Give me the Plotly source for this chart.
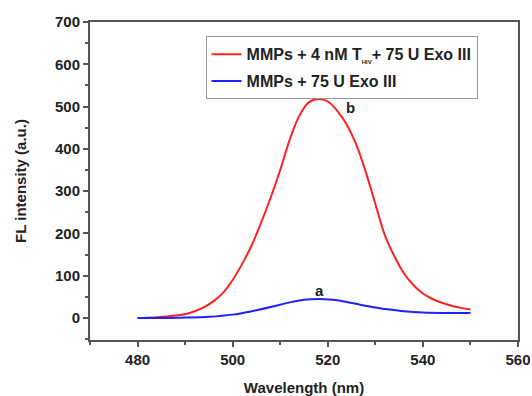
import plotly.graph_objects as go

red_x = [480, 484, 488, 490, 492, 494, 496, 498, 500, 502, 504, 506, 508, 510, 512, 514, 516, 518,
         520, 522, 524, 526, 528, 530, 532, 534, 536, 538, 540, 542, 544, 546, 548, 550]
red_y = [0, 2, 6, 9, 16, 26, 40, 60, 90, 128, 172, 226, 285, 350, 422, 478, 510, 518,
         512, 490, 457, 410, 345, 270, 196, 146, 106, 78, 58, 45, 36, 29, 24, 20]
blue_x = [480, 485, 490, 495, 500, 504, 508, 512, 515, 518, 521, 524, 527, 530, 533, 536, 540, 545, 550]
blue_y = [0, 0, 1, 3, 8, 16, 26, 37, 43, 45, 43, 38, 31, 25, 20, 16, 13, 12, 12]
red_name = "<b>MMPs + 4 nM T<sub><span style='font-size:6px'>HIV</span></sub>+ 75 U Exo III</b>"
blue_name = "<b>MMPs + 75 U Exo III</b>"

fig = go.Figure()
fig.add_trace(go.Scatter(x=red_x, y=red_y, mode="lines", name=red_name, legendgroup="r",
                         line=dict(color="#ff2020", width=2, shape="spline", smoothing=1.0)))
fig.add_trace(go.Scatter(x=blue_x, y=blue_y, mode="lines", name=blue_name, legendgroup="b",
                         line=dict(color="#2020ff", width=2, shape="spline", smoothing=1.0)))

fig.add_annotation(x=524.7, y=497, text="<b>b</b>", showarrow=False,
                   font=dict(family="Arial", size=15, color="#222"))
fig.add_annotation(x=518.2, y=66, text="<b>a</b>", showarrow=False,
                   font=dict(family="Arial", size=15, color="#222"))

axis_common = dict(showline=True, linecolor="#555", linewidth=2, mirror=True,
                   ticks="outside", ticklen=5, tickwidth=1.5, tickcolor="#555",
                   showgrid=False, zeroline=False, automargin=False,
                   tickfont=dict(family="Arial", size=15, color="#222"))

fig.update_xaxes(range=[470, 560], tick0=480, dtick=20,
                 minor=dict(ticks="outside", dtick=10, tick0=470, ticklen=3, tickcolor="#555"),
                 title=dict(text="<b>Wavelength (nm)</b>", font=dict(family="Arial", size=15, color="#222"), standoff=17),
                 tickprefix="<b>", ticksuffix="</b>", **axis_common)
fig.update_yaxes(range=[-52, 700], tick0=0, dtick=100,
                 minor=dict(ticks="outside", dtick=50, tick0=0, ticklen=3, tickcolor="#555"),
                 title=dict(text="<b>FL intensity (a.u.)</b>", font=dict(family="Arial", size=15, color="#222"), standoff=25),
                 tickprefix="<b>", ticksuffix="</b>", **axis_common)

fig.update_layout(
    width=532, height=396,
    margin=dict(l=90, r=14, t=22, b=56),
    plot_bgcolor="white", paper_bgcolor="white",
    legend=dict(x=0.27, y=0.955, xanchor="left", yanchor="top",
                bordercolor="#999", borderwidth=1, bgcolor="white",
                font=dict(family="Arial", size=16, color="#222"),
                tracegroupgap=3, itemwidth=30),
)
fig.write_html("out.html", config={"displayModeBar": False},
               post_script="document.body.style.margin='0';")
